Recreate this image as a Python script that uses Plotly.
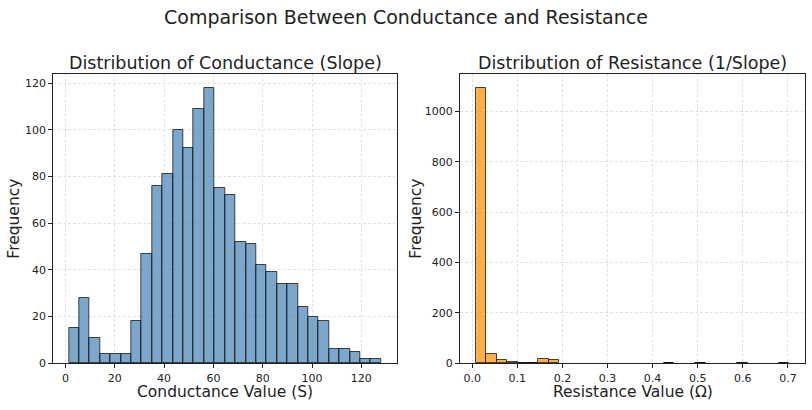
import numpy as np
import plotly.graph_objects as go

# ---- data ----
cond_min, cond_max = 1.42, 128.0
cond_counts = [15, 28, 11, 4, 4, 4, 18, 47, 76, 81, 100, 92, 109, 118, 75,
               72, 52, 51, 42, 39, 34, 34, 24, 20, 18, 6, 6, 5, 2, 2]

res_min, res_max = 0.0078, 0.703
res_counts = [1094, 37, 12, 7, 3, 3, 17, 12, 0, 0, 0, 0, 0, 0, 0,
              0, 0, 0, 1, 0, 0, 1, 0, 0, 0, 1, 0, 0, 0, 1]

left_xticks = [0, 20, 40, 60, 80, 100, 120]
left_yticks = [0, 20, 40, 60, 80, 100, 120]
right_xticks = [0.0, 0.1, 0.2, 0.3, 0.4, 0.5, 0.6, 0.7]
right_yticks = [0, 200, 400, 600, 800, 1000]

main_title = "Comparison Between Conductance and Resistance"
left_title = "Distribution of Conductance (Slope)"
right_title = "Distribution of Resistance (1/Slope)"
left_xlabel = "Conductance Value (S)"
right_xlabel = "Resistance Value (Ω)"
ylabel = "Frequency"

W, H = 812, 410
FONT = "DejaVu Sans"


def bins(lo, hi, counts):
    n = len(counts)
    edges = np.linspace(lo, hi, n + 1)
    centers = (edges[:-1] + edges[1:]) / 2
    c = np.array(counts)
    keep = c > 0
    return centers[keep], c[keep], edges[1] - edges[0]


cx, cy, cw = bins(cond_min, cond_max, cond_counts)
rx, ry, rw = bins(res_min, res_max, res_counts)

fig = go.Figure()
fig.add_trace(go.Bar(x=cx, y=cy, width=cw,
                     marker=dict(color="rgba(70,130,180,0.7)",
                                 line=dict(color="rgba(0,0,0,0.7)", width=1)),
                     xaxis="x", yaxis="y", showlegend=False))
fig.add_trace(go.Bar(x=rx, y=ry, width=rw,
                     marker=dict(color="rgba(255,140,0,0.7)",
                                 line=dict(color="rgba(0,0,0,0.7)", width=1)),
                     xaxis="x2", yaxis="y2", showlegend=False))

# domains in pixel -> paper coordinates
Lx0, Lx1 = 53.3 / W, 396.7 / W
Rx0, Rx1 = 460 / W, 805 / W
y0, y1 = 1 - 363.3 / H, 1 - 74 / H


def lin(r):
    lo, hi = min(r), max(r)
    span = hi - lo
    return [lo - 0.05 * span, hi + 0.05 * span]


common = dict(showline=True, mirror=True, linecolor="#222", linewidth=1,
              ticks="outside", ticklen=4, tickcolor="#222", tickwidth=1,
              showgrid=True, gridcolor="rgba(176,176,176,0.35)",
              griddash="3px,2px", gridwidth=1, zeroline=False, automargin=False,
              tickfont=dict(family=FONT, size=11, color="#222"))

fig.update_layout(
    width=W, height=H, margin=dict(l=0, r=0, t=0, b=0, autoexpand=False),
    paper_bgcolor="white", plot_bgcolor="white", barmode="overlay", bargap=0,
    font=dict(family=FONT, color="#222"),
    xaxis=dict(domain=[Lx0, Lx1], anchor="y",
               range=lin([cond_min, cond_max]), tickvals=left_xticks, **common),
    yaxis=dict(domain=[y0, y1], anchor="x",
               range=[0, max(cond_counts) * 1.05], tickvals=left_yticks, **common),
    xaxis2=dict(domain=[Rx0, Rx1], anchor="y2",
                range=lin([res_min, res_max]), tickvals=right_xticks,
                tickformat=".1f", **common),
    yaxis2=dict(domain=[y0, y1], anchor="x2",
                range=[0, max(res_counts) * 1.05], tickvals=right_yticks, **common),
)

ann = [
    dict(text=main_title, x=0.5, y=1 - 17 / H, font=dict(size=19)),
    dict(text=left_title, x=(Lx0 + Lx1) / 2, y=1 - 63 / H, font=dict(size=17.5)),
    dict(text=right_title, x=(Rx0 + Rx1) / 2, y=1 - 63 / H, font=dict(size=17.5)),
    dict(text=left_xlabel, x=(Lx0 + Lx1) / 2, y=1 - 392 / H, font=dict(size=15.5)),
    dict(text=right_xlabel, x=(Rx0 + Rx1) / 2, y=1 - 392 / H, font=dict(size=15.5)),
    dict(text=ylabel, x=14 / W, y=(y0 + y1) / 2, textangle=-90, font=dict(size=15.5)),
    dict(text=ylabel, x=416 / W, y=(y0 + y1) / 2, textangle=-90, font=dict(size=15.5)),
]
for a in ann:
    a.update(xref="paper", yref="paper", showarrow=False,
             xanchor="center", yanchor="middle")
    a["font"].update(family=FONT, color="#222")
fig.update_layout(annotations=ann)

fig.write_html("out.html",
               config={"displayModeBar": False},
               post_script="document.body.style.margin='0';"
                           "document.body.style.overflow='hidden';")
